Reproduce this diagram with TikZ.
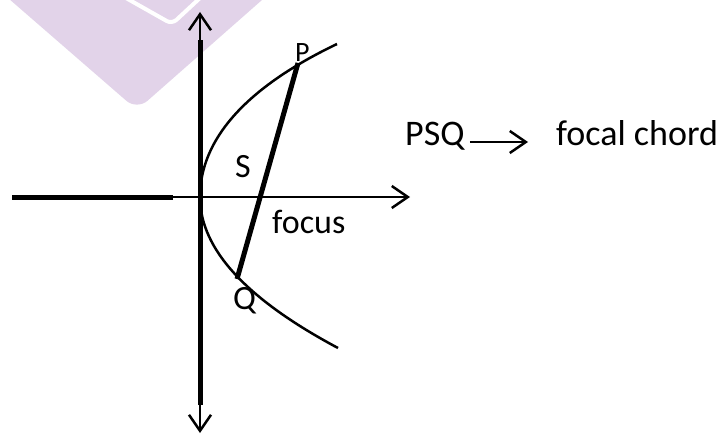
\documentclass[tikz,border=0pt]{standalone}
\usepackage{fontspec}
\setmainfont{Carlito}
\usepackage{xcolor}
\usetikzlibrary{arrows.meta,positioning}
\definecolor{wmark}{HTML}{E2D3E9}

\begin{document}
\begin{tikzpicture}[
  x=1pt, y=-1pt,
  heavy/.style={line width=5pt, black},
  curve/.style={line width=2.5pt, black},
  arr/.style  ={-{Straight Barb[length=16pt, width=22pt]}, line width=2.5pt, black},
  dbl/.style  ={{Straight Barb[length=16pt, width=22pt]}-{Straight Barb[length=16pt, width=22pt]}, line width=2.5pt, black},
  lbl/.style  ={anchor=base west, inner sep=0pt, font=\fontsize{34}{38}\selectfont},
  big/.style  ={lbl, font=\fontsize{36}{40}\selectfont},
]
  \fill[white] (0,0) rectangle (726,436);
  \useasboundingbox (0,0) rectangle (726,436);

  % faint mark behind
  \fill[wmark, rounded corners=14pt] (-7,-15) -- (137,110) -- (279,-15) -- cycle;
  \draw[white, line width=4pt, rounded corners=6pt] (126,-2) -- (172,24) -- (200,-2);

  \coordinate (top) at (200,12);
  \coordinate (bot) at (200,433);
  \coordinate (vt)  at (200,40);
  \coordinate (vb)  at (200,405);
  \coordinate (xl)  at (12,197);
  \coordinate (xk)  at (173,197);
  \coordinate (xr)  at (410,197);
  \coordinate (v)   at (200,197);
  \coordinate (p)   at (298,63);
  \coordinate (q)   at (237,279);

  % axes
  \draw[dbl] (bot) -- (top);
  \draw[heavy] (vb) -- (vt);
  \draw[heavy] (xl) -- (xk);
  \draw[arr] (xk) -- (xr);

  % parabola and chord
  \draw[curve] (337,44) .. controls (245,88) and (200,140) .. (v)
                        .. controls (200,250) and (248,300) .. (338,348);
  \draw[heavy] (p) -- (q);

  \node[lbl, font=\fontsize{28}{32}\selectfont] (plbl) at (295,62) {P};
  \node[lbl] (slbl) at (235,177) {S};
  \node[lbl] (flbl) at (272,233) {focus};
  \node[lbl] (qlbl) at (233,309) {Q};

  \node[big] (psq) at (405,146) {PSQ};
  \node[big] (fc)  at (556,146) {focal chord};
  \draw[arr, shorten <=5pt, shorten >=28pt] ([yshift=4pt]psq.base east) -- ([yshift=4pt]fc.base west);
\end{tikzpicture}
\end{document}
